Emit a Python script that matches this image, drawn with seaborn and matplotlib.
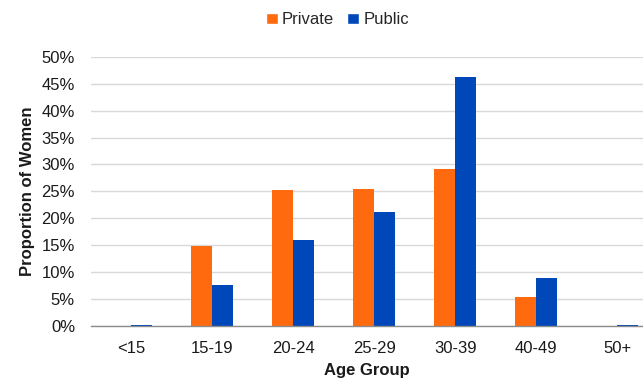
import matplotlib
matplotlib.use("Agg")
import matplotlib.pyplot as plt
import seaborn as sns
import pandas as pd
from matplotlib.ticker import PercentFormatter, MultipleLocator
from matplotlib.patches import Patch

age_groups = ["<15", "15-19", "20-24", "25-29", "30-39", "40-49", "50+"]
private_vals = [0.0, 0.148, 0.253, 0.255, 0.291, 0.054, 0.0]
public_vals = [0.001, 0.076, 0.160, 0.211, 0.462, 0.089, 0.002]
series = ["Private", "Public"]
colors = {"Private": "#FF6A0E", "Public": "#0047B9"}

df = pd.DataFrame({
    "Age Group": age_groups * 2,
    "Value": private_vals + public_vals,
    "Sector": ["Private"] * len(age_groups) + ["Public"] * len(age_groups),
})

sns.set_theme(style="white")
plt.rcParams["font.family"] = ["Liberation Sans", "DejaVu Sans"]

fig = plt.figure(figsize=(6.43, 3.79), dpi=100)
ax = fig.add_axes([0.1415, 0.1406, 0.8585, 0.7094])

sns.barplot(data=df, x="Age Group", y="Value", hue="Sector", order=age_groups,
            hue_order=series, palette=colors, width=0.52, saturation=1,
            ax=ax, legend=False, linewidth=0)

ax.set_ylim(0, 0.5)
ax.set_xlim(-0.5, 6.32)
ax.yaxis.set_major_locator(MultipleLocator(0.05))
ax.yaxis.set_major_formatter(PercentFormatter(1.0, decimals=0))
ax.grid(axis="y", color="#D9D9D9", linewidth=1)
ax.set_axisbelow(True)
for s in ["top", "right", "left"]:
    ax.spines[s].set_visible(False)
ax.spines["bottom"].set_color("#8C8C8C")
ax.spines["bottom"].set_linewidth(1)
ax.tick_params(axis="both", length=0, labelsize=12, colors="#1A1A1A")
ax.tick_params(axis="y", pad=11.5)
ax.tick_params(axis="x", pad=11)

ax.set_ylabel("Proportion of Women", fontsize=12, fontweight="bold", labelpad=5, color="#1A1A1A")
ax.set_xlabel("Age Group", fontsize=12, fontweight="bold", labelpad=5, color="#1A1A1A")

handles = [Patch(facecolor=colors[s], label=s) for s in series]
fig.legend(handles=handles, loc="center", bbox_to_anchor=(0.525, 0.948), ncol=2,
           frameon=False, fontsize=12, handlelength=0.7, handleheight=0.7,
           handletextpad=0.25, columnspacing=0.8)

fig.savefig("out.png", dpi=100)
